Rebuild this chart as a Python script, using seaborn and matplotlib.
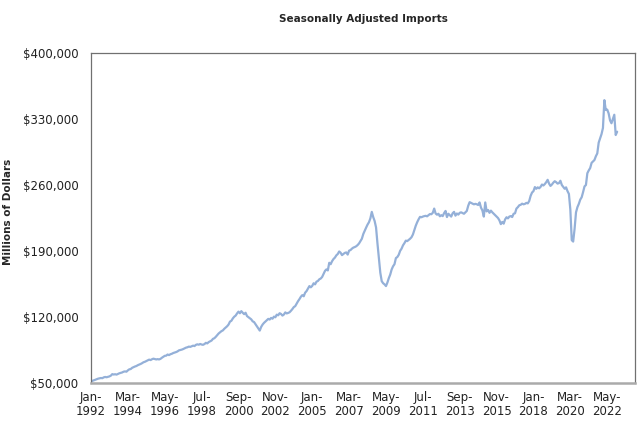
import matplotlib
matplotlib.use("Agg")
import matplotlib.pyplot as plt
import seaborn as sns
import pandas as pd
import numpy as np

# Monthly seasonally adjusted imports, billions of dollars, Jan 1992 - Dec 2022
y1992 = [51.5, 52.3, 52.8, 53.4, 54.0, 54.6, 55.0, 55.3, 55.1, 56.0, 56.4, 56.1]
y1993 = [56.5, 57.0, 57.8, 59.4, 59.0, 59.3, 58.9, 59.6, 60.3, 60.8, 61.2, 62.0]
y1994 = [62.3, 62.0, 63.4, 64.5, 64.8, 66.1, 66.8, 67.5, 68.0, 68.9, 69.5, 70.2]
y1995 = [71.0, 72.0, 72.5, 73.3, 74.0, 74.8, 74.3, 75.2, 75.8, 75.4, 75.0, 75.3]
y1996 = [75.0, 75.6, 76.8, 77.8, 78.8, 79.0, 80.2, 79.6, 80.5, 81.0, 81.8, 82.3]
y1997 = [82.8, 83.5, 84.6, 85.0, 85.4, 86.0, 86.8, 87.5, 87.9, 88.6, 88.3, 88.9]
y1998 = [89.6, 89.2, 90.5, 91.0, 90.6, 91.4, 90.8, 90.5, 91.3, 92.6, 92.0, 93.4]
y1999 = [94.2, 95.0, 96.8, 97.5, 99.0, 100.8, 102.5, 103.7, 105.0, 105.8, 107.5, 108.9]
y2000 = [110.2, 112.0, 115.1, 116.0, 118.5, 120.3, 121.5, 123.8, 125.7, 124.0, 126.2, 124.5]
y2001 = [123.0, 124.5, 121.0, 119.8, 118.7, 117.5, 115.4, 114.6, 112.3, 110.0, 107.8, 105.6]
y2002 = [109.5, 112.0, 113.8, 115.2, 116.6, 118.0, 117.3, 119.0, 118.2, 120.4, 119.7, 122.5]
y2003 = [121.8, 124.0, 123.2, 121.5, 122.6, 124.9, 123.8, 124.3, 125.0, 126.6, 128.4, 130.5]
y2004 = [131.5, 134.2, 136.8, 139.0, 141.5, 143.2, 142.0, 145.8, 147.5, 150.2, 152.8, 151.5]
y2005 = [153.0, 155.8, 154.6, 157.5, 158.2, 160.0, 160.8, 162.5, 165.8, 168.9, 170.5, 169.4]
y2006 = [177.5, 176.0, 179.2, 181.5, 183.0, 185.4, 186.8, 189.5, 188.2, 185.6, 186.9, 188.0]
y2007 = [188.5, 186.2, 190.4, 191.0, 192.5, 193.6, 194.2, 195.0, 196.3, 198.0, 200.5, 203.0]
y2008 = [208.0, 211.5, 214.8, 218.0, 220.5, 224.6, 231.5, 226.0, 221.8, 215.0, 198.0, 182.5]
y2009 = [167.0, 158.0, 155.8, 154.6, 152.8, 156.5, 161.2, 165.0, 170.4, 173.8, 176.0, 182.5]
y2010 = [183.6, 186.0, 190.2, 192.5, 196.0, 198.3, 201.0, 200.5, 201.8, 203.0, 204.6, 207.5]
y2011 = [212.0, 216.8, 220.5, 223.6, 226.2, 225.8, 226.5, 227.0, 227.3, 226.8, 228.0, 229.2]
y2012 = [229.0, 230.5, 235.0, 229.8, 228.5, 229.5, 226.8, 228.0, 227.0, 230.2, 232.5, 226.0]
y2013 = [229.5, 228.0, 226.5, 230.0, 231.5, 227.5, 229.8, 228.6, 230.5, 231.0, 230.2, 229.5]
y2014 = [231.0, 232.5, 238.0, 241.8, 241.0, 240.2, 239.5, 240.0, 239.6, 238.8, 241.5, 236.0]
y2015 = [233.0, 226.5, 241.5, 232.0, 233.5, 230.5, 232.8, 231.0, 229.5, 228.0, 226.5, 225.0]
y2016 = [222.5, 218.5, 220.8, 219.0, 223.5, 225.8, 224.6, 226.5, 227.0, 226.0, 229.5, 230.0]
y2017 = [235.0, 236.5, 238.5, 239.0, 240.2, 239.5, 240.0, 241.0, 240.5, 243.0, 248.5, 252.0]
y2018 = [253.5, 257.8, 256.0, 257.5, 256.5, 258.0, 260.5, 259.5, 261.0, 263.0, 265.5, 261.5]
y2019 = [259.0, 260.5, 262.5, 264.0, 263.0, 261.5, 262.0, 264.5, 260.0, 258.0, 256.0, 257.5]
y2020 = [253.5, 250.5, 234.0, 201.5, 200.0, 213.5, 231.0, 236.5, 240.0, 244.5, 247.0, 252.5]
y2021 = [258.5, 260.0, 272.5, 275.5, 278.0, 283.5, 285.0, 286.5, 290.5, 293.5, 305.0, 309.5]
y2022 = [314.0, 320.5, 350.0, 339.5, 340.0, 336.0, 328.5, 325.5, 330.0, 334.5, 313.0, 316.5]

years = [y1992, y1993, y1994, y1995, y1996, y1997, y1998, y1999, y2000, y2001,
         y2002, y2003, y2004, y2005, y2006, y2007, y2008, y2009, y2010, y2011,
         y2012, y2013, y2014, y2015, y2016, y2017, y2018, y2019, y2020, y2021, y2022]

tick_labels = ["Jan-\n1992", "Mar-\n1994", "May-\n1996", "Jul-\n1998", "Sep-\n2000",
               "Nov-\n2002", "Jan-\n2005", "Mar-\n2007", "May-\n2009", "Jul-\n2011",
               "Sep-\n2013", "Nov-\n2015", "Jan-\n2018", "Mar-\n2020", "May-\n2022"]
y_ticks = [50000, 120000, 190000, 260000, 330000, 400000]

values = [v * 1000 for yr in years for v in yr]
df = pd.DataFrame({"idx": range(len(values)), "imports": values})

sns.set_theme(style="white")
plt.rcParams['font.family'] = ['DejaVu Sans']

fig = plt.figure(figsize=(6.44, 4.26), dpi=100)
ax = fig.add_axes([91/644, 1 - 383/426, (635 - 91)/644, (383 - 53)/426])

sns.lineplot(data=df, x="idx", y="imports", ax=ax, color="#94b0d8", linewidth=1.6)

ax.set_xlim(0, 383.6)
ax.set_ylim(50000, 400000)
ax.set_xticks([i * 26 for i in range(len(tick_labels))])
ax.set_xticklabels(tick_labels, fontsize=8.5, color="#222222", linespacing=1.1)
ax.set_yticks(y_ticks)
ax.set_yticklabels([f"${t:,}" for t in y_ticks], fontsize=8.5, color="#222222")
ax.tick_params(axis="both", length=0)
ax.tick_params(axis="y", pad=9)
ax.tick_params(axis="x", pad=6)

for side in ["left", "top", "right"]:
    ax.spines[side].set_color("#707070")
    ax.spines[side].set_linewidth(0.9)
ax.spines["bottom"].set_color("#aaaaaa")
ax.spines["bottom"].set_linewidth(1.8)

ax.set_xlabel("")
ax.set_ylabel("")
fig.text(8/644, 1 - 212/426, "Millions of Dollars", rotation=90, ha="center", va="center",
         fontsize=7.5, fontweight="bold")
fig.text(363/644, 1 - 19/426, "Seasonally Adjusted Imports", ha="center", va="center",
         fontsize=7.5, fontweight="bold")

fig.savefig("out.png", dpi=100)
